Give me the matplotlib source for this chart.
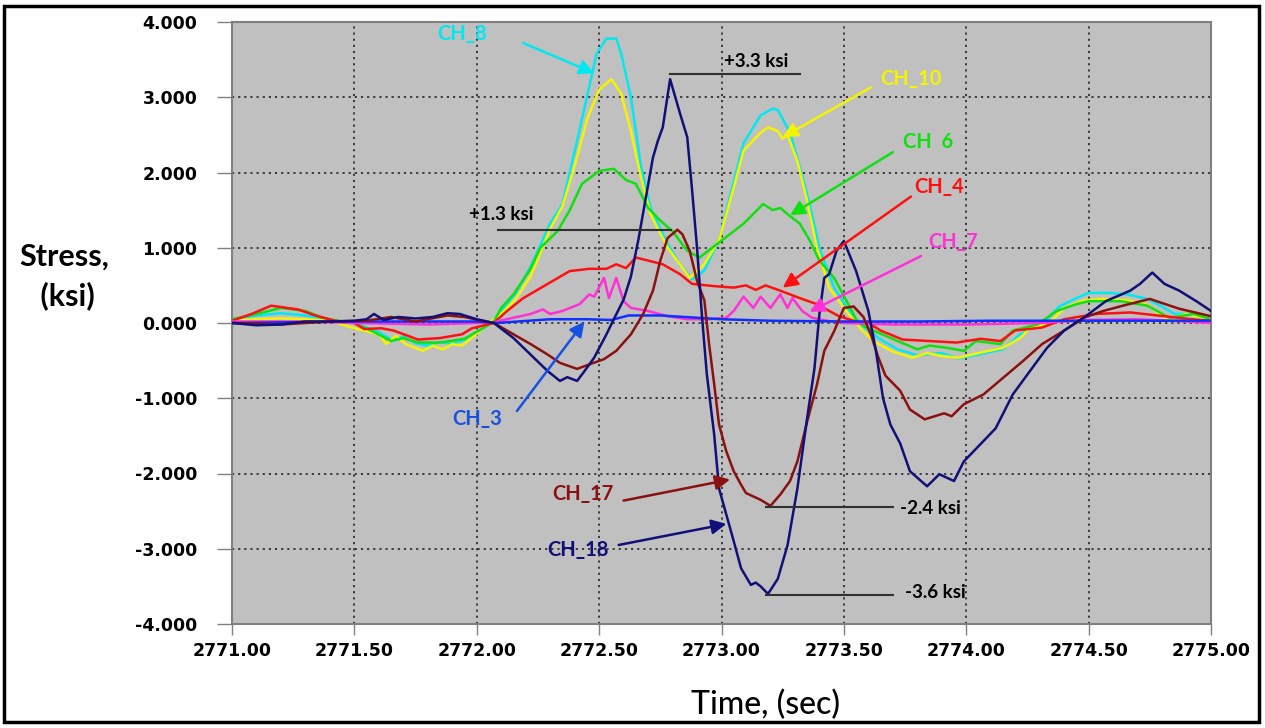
import numpy as np
import matplotlib
matplotlib.use("Agg")
from matplotlib import pyplot as plt
from matplotlib.patches import Rectangle

# strain gauge channels, (time sec, stress ksi)
ch8 = np.array([
    (2771.00, 0.05), (2771.10, 0.10), (2771.20, 0.13), (2771.30, 0.10), (2771.40, 0.04),
    (2771.50, 0.00), (2771.60, -0.12), (2771.65, -0.22), (2771.70, -0.18), (2771.75, -0.27),
    (2771.80, -0.30), (2771.85, -0.25), (2771.90, -0.28), (2771.95, -0.22), (2772.00, -0.12),
    (2772.05, -0.02), (2772.10, 0.16), (2772.16, 0.40), (2772.22, 0.75), (2772.30, 1.32),
    (2772.35, 1.58), (2772.41, 2.42), (2772.45, 3.00), (2772.49, 3.58), (2772.53, 3.78),
    (2772.57, 3.78), (2772.59, 3.58), (2772.63, 3.00), (2772.67, 2.10), (2772.71, 1.53),
    (2772.78, 1.05), (2772.83, 0.78), (2772.88, 0.58), (2772.93, 0.70), (2772.99, 1.10),
    (2773.03, 1.62), (2773.09, 2.39), (2773.16, 2.76), (2773.21, 2.85), (2773.23, 2.83),
    (2773.28, 2.53), (2773.32, 2.07), (2773.36, 1.58), (2773.40, 1.00), (2773.46, 0.47),
    (2773.53, 0.12), (2773.58, -0.05), (2773.65, -0.22), (2773.72, -0.35), (2773.80, -0.43),
    (2773.90, -0.40), (2773.97, -0.47), (2774.05, -0.42), (2774.15, -0.35), (2774.22, -0.15),
    (2774.28, -0.05), (2774.33, 0.05), (2774.38, 0.22), (2774.45, 0.33), (2774.50, 0.40),
    (2774.58, 0.40), (2774.66, 0.38), (2774.74, 0.32), (2774.80, 0.22), (2774.85, 0.12),
    (2774.92, 0.12), (2775.00, 0.05)])

ch10 = np.array([
    (2771.00, 0.03), (2771.10, 0.05), (2771.20, 0.06), (2771.30, 0.05), (2771.40, 0.03),
    (2771.50, -0.07), (2771.60, -0.15), (2771.63, -0.28), (2771.67, -0.17), (2771.71, -0.28),
    (2771.78, -0.37), (2771.82, -0.30), (2771.86, -0.35), (2771.90, -0.28), (2771.94, -0.30),
    (2771.99, -0.17), (2772.06, 0.03), (2772.10, 0.12), (2772.16, 0.32), (2772.22, 0.62),
    (2772.30, 1.25), (2772.35, 1.55), (2772.41, 2.20), (2772.45, 2.70), (2772.50, 3.10),
    (2772.55, 3.24), (2772.59, 3.05), (2772.63, 2.55), (2772.67, 1.95), (2772.71, 1.45),
    (2772.78, 1.00), (2772.83, 0.78), (2772.87, 0.60), (2772.93, 0.78), (2772.99, 1.10),
    (2773.05, 1.80), (2773.09, 2.29), (2773.16, 2.53), (2773.19, 2.60), (2773.23, 2.55),
    (2773.25, 2.45), (2773.27, 2.50), (2773.31, 2.15), (2773.35, 1.62), (2773.39, 1.00),
    (2773.44, 0.47), (2773.51, 0.16), (2773.57, -0.08), (2773.62, -0.24), (2773.70, -0.38),
    (2773.78, -0.46), (2773.84, -0.40), (2773.90, -0.44), (2773.97, -0.46), (2774.05, -0.40),
    (2774.15, -0.33), (2774.22, -0.20), (2774.26, -0.07), (2774.34, 0.00), (2774.40, 0.20),
    (2774.48, 0.30), (2774.56, 0.32), (2774.66, 0.30), (2774.74, 0.24), (2774.82, 0.05),
    (2774.90, 0.12), (2775.00, 0.04)])

ch6 = np.array([
    (2771.00, 0.05), (2771.10, 0.12), (2771.20, 0.20), (2771.30, 0.16), (2771.37, 0.07),
    (2771.45, 0.02), (2771.50, 0.00), (2771.58, -0.12), (2771.65, -0.24), (2771.70, -0.20),
    (2771.76, -0.26), (2771.85, -0.26), (2771.95, -0.21), (2772.02, -0.08), (2772.07, 0.02),
    (2772.10, 0.20), (2772.15, 0.38), (2772.22, 0.72), (2772.26, 1.00), (2772.33, 1.22),
    (2772.38, 1.50), (2772.43, 1.85), (2772.50, 2.02), (2772.56, 2.05), (2772.61, 1.90),
    (2772.65, 1.85), (2772.70, 1.53), (2772.75, 1.36), (2772.80, 1.22), (2772.86, 0.96),
    (2772.91, 0.87), (2772.99, 1.07), (2773.09, 1.32), (2773.17, 1.58), (2773.21, 1.50),
    (2773.24, 1.53), (2773.28, 1.42), (2773.32, 1.32), (2773.36, 1.10), (2773.40, 0.83),
    (2773.46, 0.60), (2773.51, 0.30), (2773.55, 0.05), (2773.58, -0.04), (2773.62, -0.10),
    (2773.72, -0.24), (2773.80, -0.35), (2773.85, -0.30), (2773.92, -0.33), (2773.99, -0.37),
    (2774.04, -0.24), (2774.14, -0.28), (2774.19, -0.10), (2774.29, -0.02), (2774.33, 0.07),
    (2774.37, 0.16), (2774.45, 0.25), (2774.50, 0.29), (2774.63, 0.29), (2774.74, 0.23),
    (2774.83, 0.07), (2774.93, 0.12), (2775.00, 0.05)])

ch4 = np.array([
    (2771.00, 0.03), (2771.08, 0.12), (2771.16, 0.23), (2771.27, 0.18), (2771.34, 0.10),
    (2771.42, 0.03), (2771.50, 0.00), (2771.54, -0.08), (2771.61, -0.07), (2771.66, -0.10),
    (2771.76, -0.22), (2771.85, -0.20), (2771.94, -0.15), (2771.98, -0.07), (2772.07, 0.00),
    (2772.12, 0.15), (2772.19, 0.33), (2772.29, 0.52), (2772.38, 0.69), (2772.46, 0.72),
    (2772.53, 0.72), (2772.57, 0.78), (2772.61, 0.73), (2772.65, 0.87), (2772.70, 0.83),
    (2772.76, 0.78), (2772.83, 0.65), (2772.88, 0.52), (2772.97, 0.49), (2773.05, 0.47),
    (2773.10, 0.50), (2773.14, 0.44), (2773.18, 0.50), (2773.24, 0.43), (2773.32, 0.33),
    (2773.39, 0.25), (2773.48, 0.09), (2773.55, 0.02), (2773.60, 0.00), (2773.65, -0.10),
    (2773.74, -0.22), (2773.85, -0.24), (2773.96, -0.26), (2774.06, -0.21), (2774.14, -0.24),
    (2774.20, -0.10), (2774.31, -0.06), (2774.40, 0.05), (2774.53, 0.12), (2774.67, 0.14),
    (2774.81, 0.09), (2774.92, 0.05), (2775.00, 0.03)])

ch7 = np.array([
    (2771.00, 0.02), (2771.30, 0.02), (2771.50, 0.00), (2771.80, -0.02), (2772.00, 0.00),
    (2772.07, 0.01), (2772.15, 0.07), (2772.22, 0.12), (2772.27, 0.18), (2772.30, 0.12),
    (2772.35, 0.16), (2772.42, 0.25), (2772.46, 0.38), (2772.48, 0.35), (2772.52, 0.60),
    (2772.54, 0.33), (2772.57, 0.60), (2772.60, 0.29), (2772.63, 0.20), (2772.70, 0.16),
    (2772.78, 0.09), (2772.86, 0.05), (2772.95, 0.05), (2773.02, 0.07), (2773.05, 0.16),
    (2773.09, 0.35), (2773.13, 0.20), (2773.16, 0.35), (2773.20, 0.20), (2773.24, 0.38),
    (2773.27, 0.20), (2773.29, 0.33), (2773.33, 0.16), (2773.37, 0.07), (2773.43, 0.03),
    (2773.50, 0.00), (2773.70, -0.02), (2774.00, -0.02), (2774.30, 0.00), (2774.50, 0.04),
    (2774.70, 0.05), (2774.90, 0.02), (2775.00, 0.00)])

ch3 = np.array([
    (2771.00, 0.00), (2771.50, 0.02), (2772.00, 0.02), (2772.08, 0.00), (2772.30, 0.05),
    (2772.45, 0.05), (2772.55, 0.04), (2772.62, 0.10), (2772.75, 0.10), (2772.85, 0.08),
    (2773.00, 0.05), (2773.20, 0.03), (2773.50, 0.02), (2773.80, 0.02), (2774.10, 0.03),
    (2774.50, 0.03), (2775.00, 0.03)])

ch17 = np.array([
    (2771.00, 0.00), (2771.20, -0.02), (2771.40, 0.02), (2771.55, 0.03), (2771.65, 0.08),
    (2771.75, 0.02), (2771.88, 0.10), (2771.95, 0.08), (2772.02, 0.03), (2772.07, 0.00),
    (2772.15, -0.15), (2772.22, -0.28), (2772.29, -0.42), (2772.34, -0.53), (2772.41, -0.61),
    (2772.46, -0.55), (2772.52, -0.48), (2772.57, -0.37), (2772.63, -0.15), (2772.68, 0.12),
    (2772.72, 0.43), (2772.75, 0.83), (2772.78, 1.13), (2772.82, 1.24), (2772.84, 1.18),
    (2772.87, 0.96), (2772.90, 0.56), (2772.93, 0.30), (2772.95, -0.30), (2772.97, -0.81),
    (2772.99, -1.35), (2773.02, -1.71), (2773.05, -1.97), (2773.08, -2.15), (2773.10, -2.26),
    (2773.16, -2.35), (2773.20, -2.43), (2773.24, -2.28), (2773.28, -2.10), (2773.31, -1.84),
    (2773.35, -1.31), (2773.39, -0.82), (2773.42, -0.37), (2773.46, -0.11), (2773.50, 0.20),
    (2773.54, 0.22), (2773.58, 0.08), (2773.61, -0.15), (2773.64, -0.45), (2773.67, -0.70),
    (2773.73, -0.90), (2773.77, -1.15), (2773.83, -1.28), (2773.91, -1.20), (2773.94, -1.24),
    (2773.99, -1.08), (2774.07, -0.95), (2774.15, -0.73), (2774.23, -0.51), (2774.31, -0.28),
    (2774.40, -0.10), (2774.48, 0.07), (2774.56, 0.16), (2774.64, 0.23), (2774.75, 0.32),
    (2774.87, 0.19), (2775.00, 0.09)])

ch18 = np.array([
    (2771.00, 0.00), (2771.10, -0.03), (2771.20, -0.02), (2771.30, 0.02), (2771.40, 0.02),
    (2771.50, 0.03), (2771.55, 0.05), (2771.58, 0.12), (2771.62, 0.04), (2771.68, 0.08),
    (2771.75, 0.06), (2771.82, 0.08), (2771.88, 0.13), (2771.93, 0.12), (2772.00, 0.05),
    (2772.07, 0.00), (2772.15, -0.20), (2772.22, -0.42), (2772.29, -0.64), (2772.34, -0.77),
    (2772.37, -0.72), (2772.41, -0.77), (2772.44, -0.64), (2772.48, -0.46), (2772.53, -0.15),
    (2772.56, 0.05), (2772.60, 0.31), (2772.63, 0.62), (2772.66, 1.10), (2772.69, 1.65),
    (2772.72, 2.20), (2772.74, 2.42), (2772.76, 2.60), (2772.79, 3.24), (2772.83, 2.79),
    (2772.86, 2.47), (2772.88, 1.76), (2772.90, 1.00), (2772.92, 0.10), (2772.94, -0.68),
    (2772.97, -1.48), (2772.99, -2.20), (2773.02, -2.55), (2773.05, -2.90), (2773.08, -3.26),
    (2773.12, -3.48), (2773.14, -3.45), (2773.16, -3.50), (2773.19, -3.60), (2773.23, -3.40),
    (2773.27, -2.95), (2773.31, -2.20), (2773.35, -1.26), (2773.38, -0.60), (2773.40, 0.12),
    (2773.42, 0.60), (2773.44, 0.65), (2773.47, 0.96), (2773.50, 1.09), (2773.55, 0.69),
    (2773.60, 0.16), (2773.63, -0.35), (2773.66, -1.00), (2773.69, -1.35), (2773.73, -1.60),
    (2773.77, -1.97), (2773.84, -2.17), (2773.89, -2.01), (2773.95, -2.10), (2773.99, -1.84),
    (2774.07, -1.57), (2774.12, -1.40), (2774.19, -0.95), (2774.26, -0.64), (2774.33, -0.33),
    (2774.40, -0.10), (2774.48, 0.07), (2774.57, 0.29), (2774.67, 0.43), (2774.71, 0.52),
    (2774.76, 0.67), (2774.81, 0.52), (2774.87, 0.43), (2774.94, 0.29), (2775.00, 0.16)])

x_ticks = [2771.0, 2771.5, 2772.0, 2772.5, 2773.0, 2773.5, 2774.0, 2774.5, 2775.0]
y_ticks = [4, 3, 2, 1, 0, -1, -2, -3, -4]

# peak/valley callouts: (label, line start, line end, level, text x, text y)
peaks = [
    ("+1.3 ksi", 2772.087, 2772.794, 1.24, 2771.97, 1.44),
    ("+3.3 ksi", 2772.79, 2773.32, 3.31, 2773.01, 3.47),
    ("-2.4 ksi", 2773.18, 2773.70, -2.44, 2773.73, -2.47),
    ("-3.6 ksi", 2773.18, 2773.70, -3.61, 2773.75, -3.58),
]

# channel tags: (label, text x, text y, arrow tail, arrow head, colour)
tags = [
    ("CH_8", 2771.84, 3.84, (2772.19, 3.72), (2772.48, 3.32), "#00e8f0"),
    ("CH_10", 2773.648, 3.24, (2773.61, 3.13), (2773.25, 2.47), "#f4f400"),
    ("CH  6", 2773.74, 2.40, (2773.70, 2.27), (2773.28, 1.43), "#10e010"),
    ("CH_4", 2773.786, 1.81, (2773.774, 1.68), (2773.25, 0.47), "#ff1010"),
    ("CH_7", 2773.844, 1.08, (2773.815, 0.89), (2773.36, 0.15), "#ff30d8"),
    ("CH_3", 2771.90, -1.27, (2772.164, -1.17), (2772.44, 0.02), "#1850e0"),
    ("CH_17", 2772.31, -2.27, (2772.60, -2.36), (2773.035, -2.08), "#8b1010"),
    ("CH_18", 2772.29, -3.01, (2772.58, -2.95), (2773.02, -2.67), "#101078"),
]

series = [
    (ch8, "#00e8f0"), (ch10, "#f4f400"), (ch6, "#10e010"), (ch4, "#ff1010"),
    (ch7, "#ff30d8"), (ch3, "#1030ff"), (ch17, "#8b1010"), (ch18, "#101078"),
]

fig = plt.figure(figsize=(12.65, 7.28), dpi=100)
ax = fig.add_axes([232 / 1265, 1 - 624 / 728, 979 / 1265, 602 / 728])
ax.set_facecolor("#c0c0c0")

for data, color in series:
    ax.plot(data[:, 0], data[:, 1], color=color, lw=1.8, zorder=3)

ax.set_xlim(2771, 2775)
ax.set_ylim(-4, 4)
ax.set_xticks(x_ticks)
ax.set_xticklabels([f"{v:.2f}" for v in x_ticks])
ax.set_yticks(y_ticks)
ax.set_yticklabels([f"{v:.3f}" for v in y_ticks])
ax.grid(True, color="#303030", linestyle=(0, (1.2, 2.2)), lw=1.3, zorder=1)
ax.tick_params(axis="y", direction="out", length=11, width=1, color="#808080", pad=14)
ax.tick_params(axis="x", direction="out", length=8, width=1, color="#808080", pad=5)
for lab in ax.get_xticklabels() + ax.get_yticklabels():
    lab.set_fontfamily("DejaVu Sans")
    lab.set_fontweight("bold")
    lab.set_fontsize(12.5)
for sp in ax.spines.values():
    sp.set_color("#808080")
    sp.set_linewidth(1.5)

# callout lines
for label, x0, x1, lvl, tx, ty in peaks:
    ax.plot([x0, x1], [lvl, lvl], color="#303030", lw=1.5, zorder=4)
    ax.text(tx, ty, label, fontsize=13.5, fontweight="bold", family="Lato",
            color="black", ha="left", va="center", zorder=5)

for label, tx, ty, tail, head, color in tags:
    ax.annotate("", xy=head, xytext=tail,
                arrowprops=dict(arrowstyle="-|>", color=color, lw=1.8,
                                mutation_scale=22, shrinkA=0, shrinkB=0),
                zorder=5)
    ax.text(tx, ty, label, fontsize=14.5, fontweight="bold", family="Lato",
            color=color, ha="left", va="center", zorder=5)

fig.text(64 / 1265, 1 - 276 / 728, "Stress,\n (ksi)", fontsize=22, fontweight="bold",
         family="Lato", ha="center", va="center", linespacing=1.45)
fig.text(766 / 1265, 1 - 705 / 728, "Time, (sec)", fontsize=23, family="Lato",
         fontweight="medium", ha="center", va="center")

# black frame around the whole picture
fig.patches.append(Rectangle((4 / 1265, 6 / 728), 1255 / 1265, 716 / 728,
                             transform=fig.transFigure, fill=False,
                             edgecolor="black", lw=2.5))

fig.savefig("out.png", dpi=100)
